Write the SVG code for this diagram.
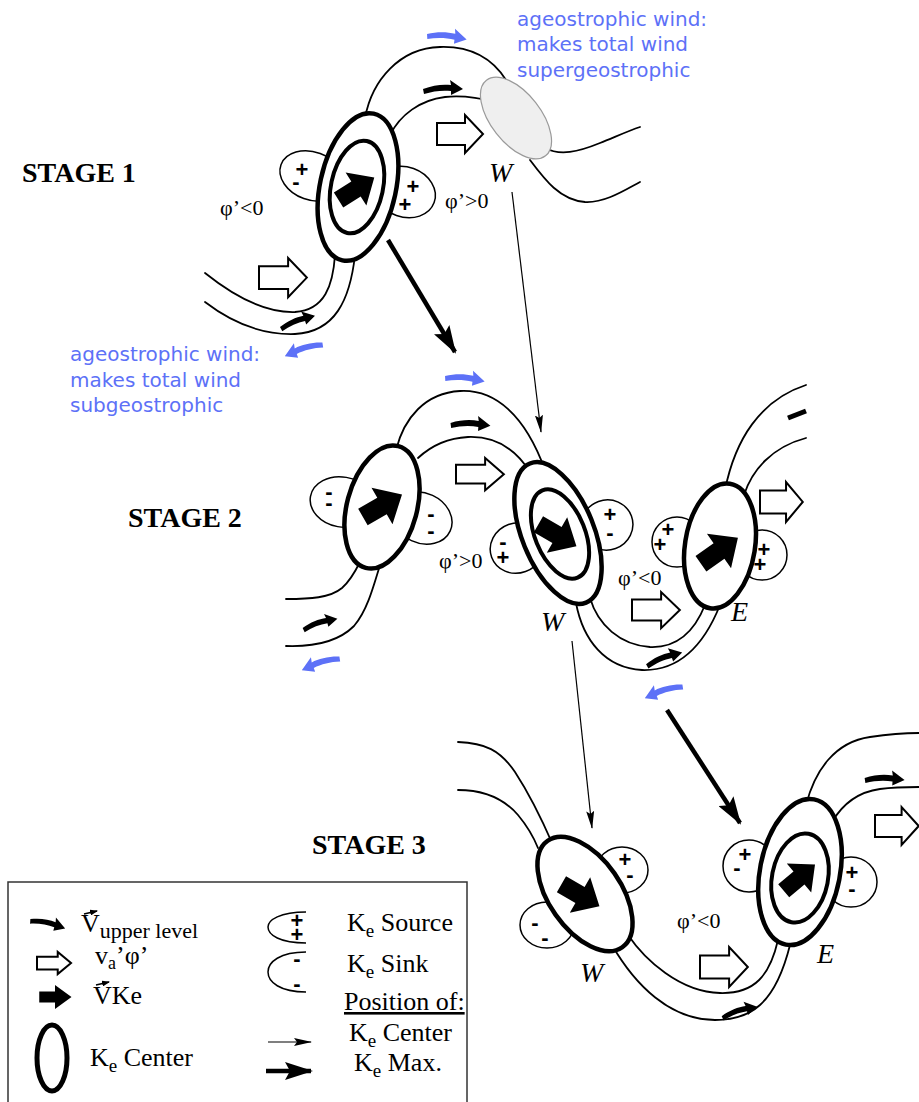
<svg xmlns="http://www.w3.org/2000/svg" width="919" height="1102" viewBox="0 0 919 1102">
<style>
.s{fill:none;stroke:#000;stroke-width:1.8;stroke-linecap:round}
.lobe{fill:#fff;stroke:#000;stroke-width:1.5}
.ke{fill:#fff;stroke:#000;stroke-width:4.5}
.kei{fill:none;stroke:#000;stroke-width:4}
.sg{font-family:"Liberation Sans",Arial,sans-serif;font-weight:bold;font-size:22px;text-anchor:middle;fill:#000}
.st{font-family:"Liberation Serif","Times New Roman",serif;font-weight:bold;font-size:28px;fill:#000}
.phi{font-family:"Liberation Serif","Times New Roman",serif;font-size:22px;fill:#000}
.lbl{font-family:"Liberation Serif","Times New Roman",serif;font-style:italic;font-size:28px;fill:#000}
.blue{font-family:"DejaVu Sans",sans-serif;font-size:20px;fill:#5d71f7}
.lg{font-family:"Liberation Serif","Times New Roman",serif;font-size:26px;fill:#000}
.wa{fill:#fff;stroke:#000;stroke-width:2;vector-effect:non-scaling-stroke;stroke-linejoin:miter}
.thin{stroke:#000;stroke-width:1.2;fill:none}
.thick{stroke:#000;stroke-width:4.5;fill:none}
</style>
<defs>
<path id="uw" d="M0,7 C10,3 20,2 28,3 L27,-2 L40,7 L28,13 L28,9 C20,8 10,9 1,12 Z"/>
<path id="wa" class="wa" d="M0,8 H28 V0 L46,19 L28,38 V30 H0 Z"/>
<path id="ka" d="M-21,-9 H0 V-20 L22,0 L0,20 V9 H-21 Z"/>
<marker id="mthin" markerWidth="18" markerHeight="8" refX="17" refY="4" orient="auto" markerUnits="userSpaceOnUse"><path d="M0,0 L18,4 L0,8 L3,4 Z" fill="#000"/></marker>
<marker id="mthick" markerWidth="28" markerHeight="18" refX="26" refY="9" orient="auto" markerUnits="userSpaceOnUse"><path d="M0,0 L28,9 L0,18 L5,9 Z" fill="#000"/></marker>
<marker id="mvec" markerWidth="8" markerHeight="6" refX="7" refY="3" orient="auto" markerUnits="userSpaceOnUse"><path d="M0,0 L8,3 L0,6 Z" fill="#000"/></marker>
</defs>
<rect width="919" height="1102" fill="#fff"/>

<!-- ===== STAGE 1 ===== -->
<g id="stage1">
<text class="st" x="22" y="182">STAGE 1</text>
<g id="s1-streams">
<path class="s" d="M365,118 C372,80 400,48 440,47 C470,46 492,58 506,80"/>
<path class="s" d="M390,135 C400,115 420,100 445,97 C465,95 480,98 495,102"/>
<path class="s" d="M545,148 C560,156 578,152 600,143 C615,137 628,131 640,127"/>
<path class="s" d="M530,160 C545,180 560,200 585,202 C605,203 625,190 640,182"/>
<path class="s" d="M205,273 C235,297 265,313 295,312 C325,310 333,285 335,255"/>
<path class="s" d="M205,302 C235,325 265,335 295,334 C335,332 350,300 355,255"/>
</g>
<ellipse id="s1-W" cx="516" cy="118" rx="25" ry="48" transform="rotate(-38 516 118)" fill="#efefef" stroke="#9a9a9a" stroke-width="1.2"/>
<g id="s1-ke">
<ellipse class="lobe" cx="312" cy="176" rx="33" ry="24" transform="rotate(20 312 176)"/>
<ellipse class="lobe" cx="405" cy="192" rx="31" ry="25" transform="rotate(20 405 192)"/>
<ellipse class="ke" cx="358" cy="187" rx="38" ry="75" stroke-width="5" transform="rotate(12 358 187)"/>
<ellipse class="kei" cx="357" cy="187" rx="26" ry="47" transform="rotate(12 357 187)"/>
<use href="#ka" transform="translate(356,189) rotate(-32) scale(0.98)"/>
<text class="sg" x="302 296" y="177 189">+-</text>
<text class="sg" x="413 405" y="194 212">++</text>
</g>
<use href="#uw" transform="translate(423,82)"/>
<use href="#uw" transform="translate(278,321) rotate(-18) scale(0.92)"/>
<use href="#uw" fill="#5d71f7" transform="translate(428,27) rotate(8)"/>
<use href="#uw" fill="#5d71f7" transform="translate(320,336) scale(-1,1) rotate(20)"/>
<use href="#wa" transform="translate(437,115)"/>
<use href="#wa" transform="translate(259,258) scale(1.04,1.03)"/>
<text class="phi" x="220" y="215">φ’&lt;0</text>
<text class="phi" x="445" y="208">φ’&gt;0</text>
<text class="lbl" x="489" y="182">W</text>
<text class="blue"><tspan x="517" y="26">ageostrophic wind:</tspan><tspan x="517" y="51">makes total wind</tspan><tspan x="517" y="77">supergeostrophic</tspan></text>
<text class="blue"><tspan x="70" y="361">ageostrophic wind:</tspan><tspan x="70" y="387">makes total wind</tspan><tspan x="70" y="412">subgeostrophic</tspan></text>
</g>

<!-- ===== STAGE 2 ===== -->
<g id="stage2">
<text class="st" x="128" y="527">STAGE 2</text>
<g id="s2-streams">
<path class="s" d="M396,450 C404,418 425,393 460,391 C495,389 525,415 545,470"/>
<path class="s" d="M418,458 C432,445 448,438 468,437 C495,436 515,448 530,472"/>
<path class="s" d="M286,599 C310,599 330,598 342,588 C350,581 355,572 360,562"/>
<path class="s" d="M286,646 C315,647 338,642 354,626 C366,612 372,592 380,565"/>
<path class="s" d="M590,598 C598,625 620,645 650,647 C675,648 693,635 705,605"/>
<path class="s" d="M576,603 C583,640 605,668 642,670 C672,671 700,655 720,605"/>
<path class="s" d="M725,490 C735,440 760,400 806,385"/>
<path class="s" d="M744,495 C752,470 772,447 806,438"/>
</g>
<g id="s2-left">
<ellipse class="lobe" cx="342" cy="502" rx="32" ry="25" transform="rotate(10 342 502)"/>
<ellipse class="lobe" cx="422" cy="518" rx="31" ry="25" transform="rotate(25 422 518)"/>
<ellipse class="ke" cx="382" cy="507" rx="35" ry="63" transform="rotate(15 382 507)"/>
<use href="#ka" transform="translate(382,506) rotate(-30) scale(1.05)"/>
<text class="sg" x="329 329" y="499 510">--</text>
<text class="sg" x="431 431" y="521 538">--</text>
</g>
<g id="s2-W">
<ellipse class="lobe" cx="517" cy="548" rx="27" ry="25" transform="rotate(-20 517 548)"/>
<ellipse class="lobe" cx="607" cy="525" rx="26" ry="25" transform="rotate(-20 607 525)"/>
<ellipse class="ke" cx="558" cy="533" rx="36" ry="75" stroke-width="5" transform="rotate(-22 558 533)"/>
<ellipse class="kei" cx="560" cy="534" rx="25" ry="47" transform="rotate(-22 560 534)"/>
<use href="#ka" transform="translate(557,535) rotate(30) scale(1.02)"/>
<text class="sg" x="503 503" y="549 565">-+</text>
<text class="sg" x="610 610" y="522 540">+-</text>
</g>
<g id="s2-E">
<ellipse class="lobe" cx="677" cy="542" rx="25" ry="25"/>
<ellipse class="lobe" cx="762" cy="555" rx="25" ry="25"/>
<ellipse class="ke" cx="720" cy="546" rx="35" ry="63" transform="rotate(9 720 546)"/>
<use href="#ka" transform="translate(719,551) rotate(-35) scale(1.05)"/>
<text class="sg" x="668 660" y="537 552">++</text>
<text class="sg" x="764 760" y="557 572">++</text>
</g>
<use href="#uw" transform="translate(451,416) rotate(4)"/>
<use href="#uw" transform="translate(301,622) rotate(-15) scale(0.9)"/>
<use href="#uw" transform="translate(644,658) rotate(-18) scale(0.95)"/>
<path d="M788,418 L806,411" stroke="#000" stroke-width="5"/>
<use href="#uw" fill="#5d71f7" transform="translate(446,369) rotate(8)"/>
<use href="#uw" fill="#5d71f7" transform="translate(337,650) scale(-1,1) rotate(20)"/>
<use href="#uw" fill="#5d71f7" transform="translate(680,678) scale(-1,1) rotate(20)"/>
<use href="#wa" transform="translate(456,458) scale(1.04,0.85)"/>
<use href="#wa" transform="translate(632,592) scale(1.04,0.95)"/>
<use href="#wa" transform="translate(760,482) scale(0.93,1.05)"/>
<text class="phi" x="439" y="568">φ’&gt;0</text>
<text class="phi" x="618" y="585">φ’&lt;0</text>
<text class="lbl" x="541" y="631">W</text>
<text class="lbl" x="731" y="621">E</text>
</g>

<!-- ===== STAGE 3 ===== -->
<g id="stage3">
<text class="st" x="312" y="854">STAGE 3</text>
<g id="s3-streams">
<path class="s" d="M458,742 C485,743 500,750 515,772 C530,795 543,822 553,845"/>
<path class="s" d="M458,790 C485,790 505,800 518,815 C528,827 534,838 538,848"/>
<path class="s" d="M628,935 C645,960 680,992 720,993 C755,994 770,975 778,940"/>
<path class="s" d="M612,945 C635,985 670,1020 715,1020 C750,1020 775,1005 790,945"/>
<path class="s" d="M806,805 C815,770 835,742 870,737 C890,734 905,733 919,733"/>
<path class="s" d="M832,822 C842,805 858,792 880,789 C895,787 910,787 919,787"/>
</g>
<g id="s3-W">
<ellipse class="lobe" cx="622" cy="870" rx="26" ry="23"/>
<ellipse class="lobe" cx="547" cy="925" rx="27" ry="23"/>
<ellipse class="ke" cx="585" cy="894" rx="36" ry="65" transform="rotate(-35 585 894)"/>
<use href="#ka" transform="translate(580,895) rotate(30) scale(1.02)"/>
<text class="sg" x="625 630" y="867 882">+-</text>
<text class="sg" x="535 545" y="930 945">--</text>
</g>
<g id="s3-E">
<ellipse class="lobe" cx="749" cy="866" rx="26" ry="26"/>
<ellipse class="lobe" cx="851" cy="882" rx="26" ry="25"/>
<ellipse class="ke" cx="800" cy="872" rx="40" ry="74" stroke-width="5" transform="rotate(11 800 872)"/>
<ellipse class="kei" cx="800" cy="878" rx="28" ry="45" transform="rotate(11 800 878)"/>
<use href="#ka" transform="translate(799,878) rotate(-40) scale(0.95)"/>
<text class="sg" x="745 737" y="862 875">+-</text>
<text class="sg" x="852 852" y="880 896">+-</text>
</g>
<use href="#uw" transform="translate(720,1010) rotate(-15) scale(0.92)"/>
<use href="#uw" transform="translate(865,771) rotate(3)"/>
<use href="#wa" transform="translate(700,947) scale(1.04,1.05)"/>
<use href="#wa" transform="translate(875,807) scale(0.95,1)"/>
<text class="phi" x="677" y="928">φ’&lt;0</text>
<text class="lbl" x="580" y="982">W</text>
<text class="lbl" x="817" y="963">E</text>
</g>

<!-- ===== CONNECTORS ===== -->
<g id="connectors">
<line class="thick" x1="388" y1="240" x2="455" y2="352" marker-end="url(#mthick)"/>
<line class="thick" x1="667" y1="710" x2="740" y2="823" marker-end="url(#mthick)"/>
<line class="thin" x1="512" y1="192" x2="541" y2="432" marker-end="url(#mthin)"/>
<line class="thin" x1="572" y1="641" x2="592" y2="828" marker-end="url(#mthin)"/>
</g>

<!-- ===== LEGEND ===== -->
<g id="legend">
<rect x="8" y="882" width="459" height="240" fill="#fff" stroke="#333" stroke-width="1.5"/>
<use href="#uw" transform="translate(32,913) rotate(15) scale(0.9)"/>
<text class="lg" x="81" y="932">V<tspan font-size="22" dy="6">upper level</tspan></text>
<line x1="84" y1="914" x2="97" y2="911" stroke="#000" stroke-width="1.4" marker-end="url(#mvec)"/>
<use href="#wa" transform="translate(37,952) scale(0.74,0.58)"/>
<text class="lg" x="95" y="964">v<tspan font-size="18" dy="5">a</tspan><tspan dy="-5">’φ’</tspan></text>
<use href="#ka" transform="translate(55,997) scale(0.75,0.6)"/>
<text class="lg" x="93" y="1004">VKe</text>
<line x1="96" y1="985" x2="109" y2="982" stroke="#000" stroke-width="1.4" marker-end="url(#mvec)"/>
<ellipse cx="52" cy="1058" rx="15" ry="33" fill="none" stroke="#000" stroke-width="5"/>
<text class="lg" x="90" y="1066">K<tspan font-size="19" dy="6">e</tspan><tspan dy="-6"> Center</tspan></text>
<path d="M306,912 C280,912 268,920 268,927 C268,935 280,943 306,943" fill="none" stroke="#000" stroke-width="1.5"/>
<text class="sg" font-size="20" x="297 297" y="928 942">++</text>
<text class="lg" x="347" y="931">K<tspan font-size="19" dy="6">e</tspan><tspan dy="-6"> Source</tspan></text>
<path d="M306,952 C280,952 268,962 268,972 C268,982 280,992 306,992" fill="none" stroke="#000" stroke-width="1.5"/>
<text class="sg" font-size="20" x="297 297" y="966 991">--</text>
<text class="lg" x="347" y="972">K<tspan font-size="19" dy="6">e</tspan><tspan dy="-6"> Sink</tspan></text>
<text class="lg" x="344" y="1010" text-decoration="underline">Position of:</text>
<line class="thin" x1="268" y1="1042" x2="311" y2="1042" marker-end="url(#mthin)"/>
<text class="lg" x="349" y="1041">K<tspan font-size="19" dy="6">e</tspan><tspan dy="-6"> Center</tspan></text>
<line class="thick" x1="266" y1="1071" x2="311" y2="1071" marker-end="url(#mthick)"/>
<text class="lg" x="354" y="1071">K<tspan font-size="19" dy="6">e</tspan><tspan dy="-6"> Max.</tspan></text>
</g>
</svg>
